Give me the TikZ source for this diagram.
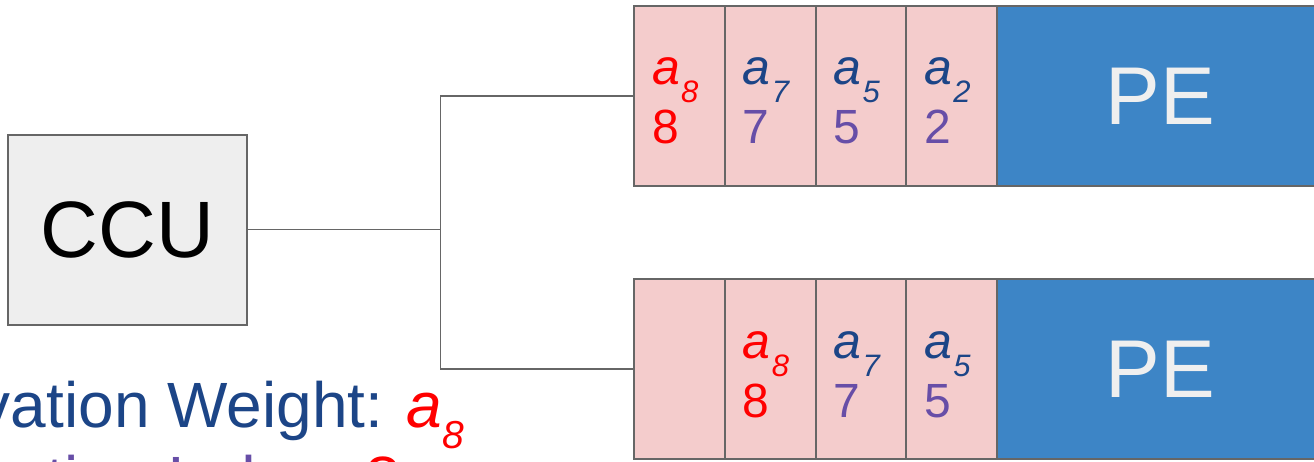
\documentclass[tikz,border=0pt]{standalone}
\usepackage{fontspec}
\setmainfont{Liberation Sans}
\definecolor{edgegray}{HTML}{666666}
\definecolor{ccufill}{HTML}{EEEEEE}
\definecolor{cellfill}{HTML}{F4CCCC}
\definecolor{pefill}{HTML}{3D85C6}
\definecolor{petext}{HTML}{EFEFEF}
\definecolor{wblue}{HTML}{1C4587}
\definecolor{ipurple}{HTML}{674EA7}
\definecolor{hotred}{HTML}{FF0000}

% activation a_k and index k as they sit in a buffer cell
\newcommand{\actlab}[2]{\textcolor{#1}{\fontsize{50}{50}\selectfont\itshape a\kern1pt\raisebox{-18pt}{\fontsize{31}{31}\selectfont #2}}}
\newcommand{\idxlab}[2]{\textcolor{#1}{\fontsize{48}{48}\selectfont #2}}

\begin{document}
\begin{tikzpicture}[x=1pt,y=-1pt,
  ccubox/.style={draw=edgegray, line width=2pt, fill=ccufill, inner sep=0pt, outer sep=0pt,
    minimum width=239pt, minimum height=190pt, font=\fontsize{80}{80}\selectfont},
  bufcell/.style={draw=edgegray, line width=2pt, fill=cellfill, inner sep=0pt, outer sep=0pt,
    minimum width=90.75pt, minimum height=180pt, anchor=north west},
  pebox/.style={draw=edgegray, line width=2pt, fill=pefill, inner sep=0pt, outer sep=0pt,
    minimum width=326pt, minimum height=180pt, anchor=north west,
    text=petext, font=\fontsize{82}{82}\selectfont},
  val/.style={inner sep=0pt, anchor=base west},
  wire/.style={draw=edgegray, line width=1.5pt},
  legend/.style={inner sep=0pt, anchor=base west, font=\fontsize{64}{74}\selectfont}]
\useasboundingbox (0,0) rectangle (1314,461);
\clip (0,0) rectangle (1314,461);

% central control unit
\node[ccubox] (ccu) at (127.5,229.5) {CCU};

% upper processing element with its input buffer
\node[bufcell] (t1) at (634,6) {};
\node[bufcell] (t2) at (t1.north east) {};
\node[bufcell] (t3) at (t2.north east) {};
\node[bufcell] (t4) at (t3.north east) {};
\node[pebox] (tpe) at (t4.north east) {PE};

% lower processing element with its input buffer
\node[bufcell] (b1) at (634,279) {};
\node[bufcell] (b2) at (b1.north east) {};
\node[bufcell] (b3) at (b2.north east) {};
\node[bufcell] (b4) at (b3.north east) {};
\node[pebox] (bpe) at (b4.north east) {PE};

% buffer contents: activation and its index
\node[val] (t1a) at ([shift={(18pt,-78pt)}]t1.north west) {\actlab{hotred}{8}};
\node[val] (t1n) at ([shift={(18pt,-137pt)}]t1.north west) {\idxlab{hotred}{8}};
\node[val] (t2a) at ([shift={(18pt,-78pt)}]t2.north west) {\actlab{wblue}{7}};
\node[val] (t2n) at ([shift={(18pt,-137pt)}]t2.north west) {\idxlab{ipurple}{7}};
\node[val] (t3a) at ([shift={(18pt,-78pt)}]t3.north west) {\actlab{wblue}{5}};
\node[val] (t3n) at ([shift={(18pt,-137pt)}]t3.north west) {\idxlab{ipurple}{5}};
\node[val] (t4a) at ([shift={(18pt,-78pt)}]t4.north west) {\actlab{wblue}{2}};
\node[val] (t4n) at ([shift={(18pt,-137pt)}]t4.north west) {\idxlab{ipurple}{2}};

\node[val] (b2a) at ([shift={(18pt,-79pt)}]b2.north west) {\actlab{hotred}{8}};
\node[val] (b2n) at ([shift={(18pt,-138pt)}]b2.north west) {\idxlab{hotred}{8}};
\node[val] (b3a) at ([shift={(18pt,-79pt)}]b3.north west) {\actlab{wblue}{7}};
\node[val] (b3n) at ([shift={(18pt,-138pt)}]b3.north west) {\idxlab{ipurple}{7}};
\node[val] (b4a) at ([shift={(18pt,-79pt)}]b4.north west) {\actlab{wblue}{5}};
\node[val] (b4n) at ([shift={(18pt,-138pt)}]b4.north west) {\idxlab{ipurple}{5}};

% broadcast wiring from the CCU to both buffers
\path (ccu.east) -- ++(193.5,0) coordinate (split);
\draw[wire] (ccu.east) -- (split);
\draw[wire] (t1.west) -| (split) |- (b1.west);

% legend
\node[legend] (lw) at (-128,427) {\textcolor{wblue}{Activation Weight: }\textcolor{hotred}{\itshape a\raisebox{-21pt}{\fontsize{39}{39}\selectfont 8}}};
\node[legend] (li) at (-128,501) {\textcolor{ipurple}{Activation Index: }\textcolor{hotred}{8}};
\end{tikzpicture}
\end{document}
